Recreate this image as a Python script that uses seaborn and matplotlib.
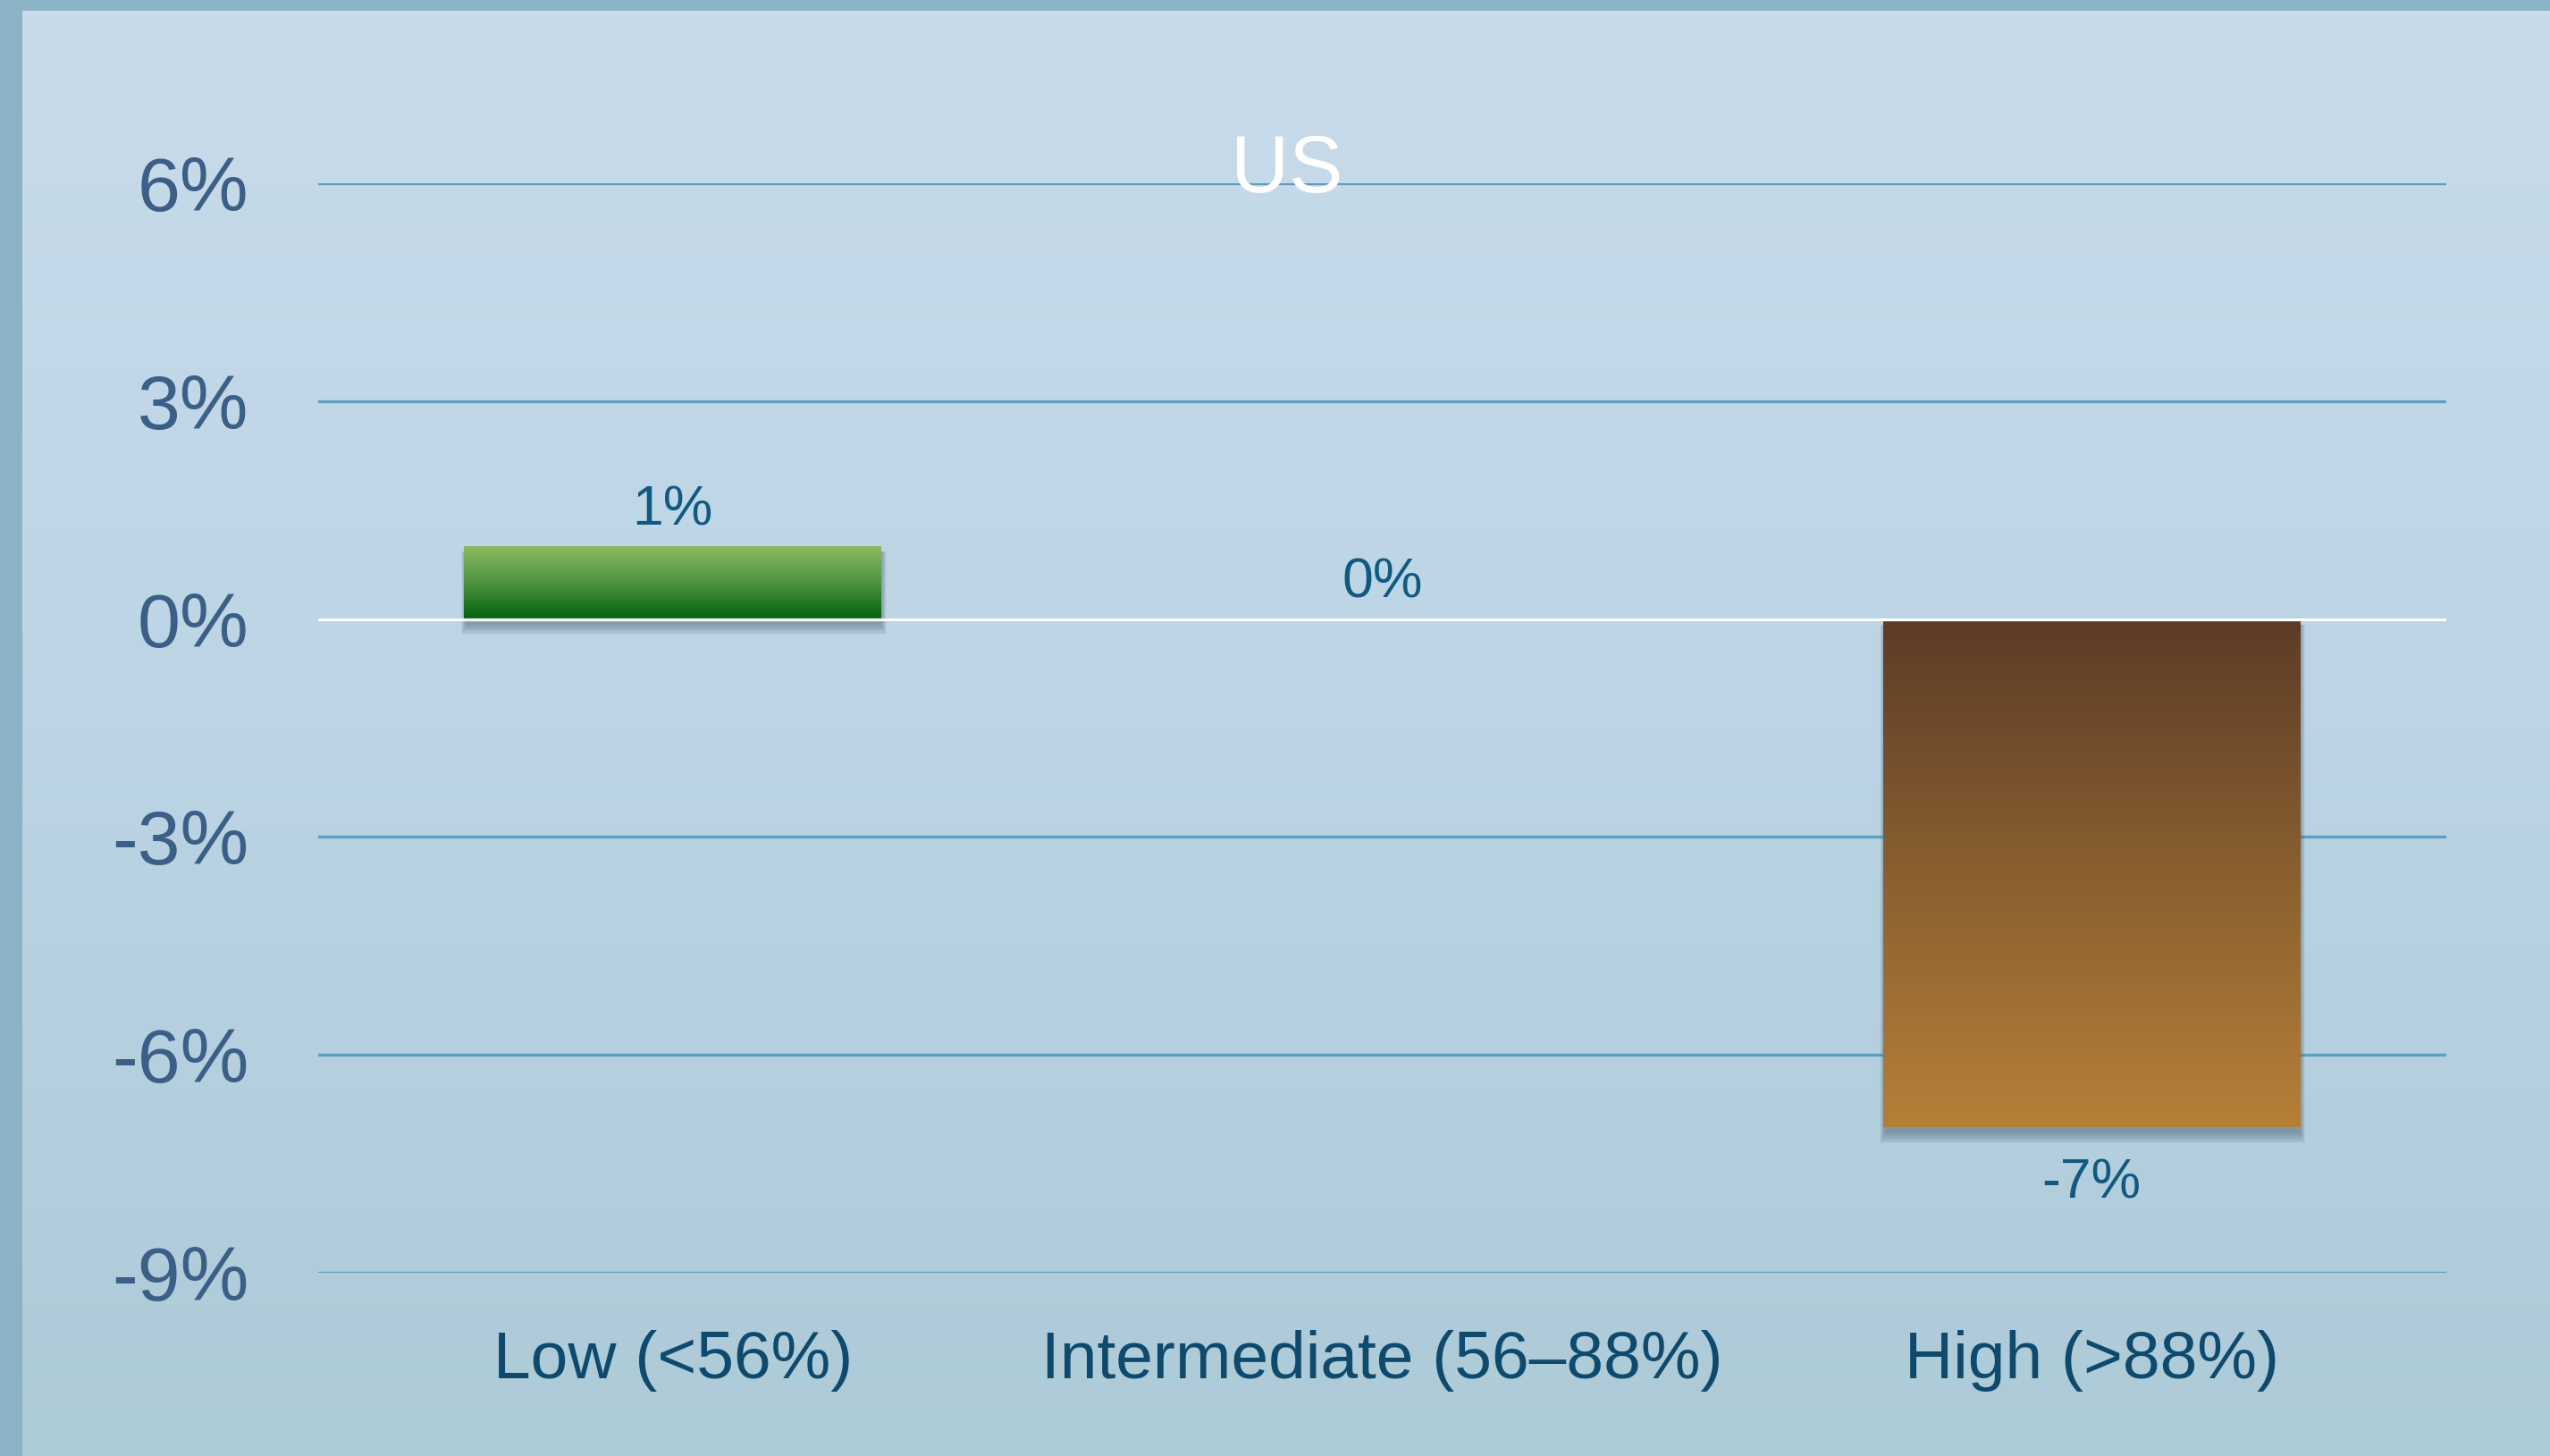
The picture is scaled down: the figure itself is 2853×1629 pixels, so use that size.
import numpy as np
import pandas as pd
import matplotlib
matplotlib.use("Agg")
import matplotlib.pyplot as plt
import seaborn as sns
from matplotlib.colors import LinearSegmentedColormap
from matplotlib.patches import Rectangle

# Data
categories = ["Low (<56%)", "Intermediate (56–88%)", "High (>88%)"]
changes = [1, 0, -7]
value_labels = ["1%", "0%", "-7%"]
y_ticks = [-9, -6, -3, 0, 3, 6]
y_tick_labels = ["-9%", "-6%", "-3%", "0%", "3%", "6%"]
title = "US"

sns.set_theme(style="white")
plt.rcParams["font.family"] = ["Liberation Sans", "DejaVu Sans"]

W, H = 2853, 1629
fig = plt.figure(figsize=(W / 100, H / 100), dpi=100)
fig.patch.set_facecolor("#8ab3c6")

# Slide panel with vertical gradient
bg = fig.add_axes([25 / W, 0, 1 - 25 / W, 1 - 12 / H])
grad = np.linspace(0, 1, 256).reshape(-1, 1)
bg_cmap = LinearSegmentedColormap.from_list("panel", ["#c8dbea", "#bcd4e5", "#adcad7"])
bg.imshow(grad, aspect="auto", cmap=bg_cmap, extent=[0, 1, 0, 1], origin="upper")
bg.set_axis_off()

# Chart axes
ax = fig.add_axes([356 / W, (H - 1424) / H, (2737 - 356) / W, (1424 - 205) / H])
ax.set_facecolor("none")
df = pd.DataFrame({"category": categories, "change": changes})
sns.barplot(data=df, x="category", y="change", ax=ax, width=0.588,
            color="white", saturation=1, zorder=3)

bar_cmaps = [
    LinearSegmentedColormap.from_list("g", ["#8cba60", "#4f9240", "#00620e"]),
    None,
    LinearSegmentedColormap.from_list("b", ["#5c3b27", "#8a6030", "#b57f37"]),
]

ax.set_xlim(-0.5, 2.5)
ax.set_ylim(-9, 6)

# px -> data conversions for the shadow
px_x = 1 / ((2737 - 356) / 3)
px_y = 15 / (1424 - 205)

for patch, cmap in zip(ax.patches, bar_cmaps):
    x, y = patch.get_x(), patch.get_y()
    w, h = patch.get_width(), patch.get_height()
    patch.set_facecolor("none")
    patch.set_edgecolor("none")
    if h == 0 or cmap is None:
        continue
    lo, hi = min(y, y + h), max(y, y + h)
    # soft drop shadow, mostly below the bar
    for k in range(10):
        r = Rectangle((x + 2 * px_x - k * px_x * 0.6, lo - 6 * px_y - k * px_y * 1.3),
                      w - 2 * px_x + 2 * k * px_x * 0.6,
                      (hi - lo) + k * px_y * 1.3,
                      facecolor="#3f5866", edgecolor="none", alpha=0.055, zorder=2)
        ax.add_patch(r)
    im = ax.imshow(grad, aspect="auto", cmap=cmap, extent=[x, x + w, lo, hi],
                   origin="upper", zorder=3)
    im.set_clip_path(patch)

ax.set_xlim(-0.5, 2.5)
ax.set_ylim(-9, 6)

# Grid and zero line
ax.set_yticks(y_ticks)
ax.set_yticklabels(y_tick_labels)
ax.yaxis.grid(True, color="#5ba0c1", linewidth=2.4, zorder=1)
ax.set_axisbelow(True)
ax.axhline(0, color="white", linewidth=2.4, zorder=4)
for s in ax.spines.values():
    s.set_visible(False)
ax.tick_params(axis="y", length=0, pad=56, labelsize=62, labelcolor="#3b5f86")
ax.tick_params(axis="x", length=0, pad=46, labelsize=54, labelcolor="#0d4a6e")
ax.set_xlabel("")
ax.set_ylabel("")

# Value labels
for i, (v, lab) in enumerate(zip(changes, value_labels)):
    if v >= 0:
        ax.annotate(lab, xy=(i, v), xytext=(0, 24), textcoords="offset pixels",
                    ha="center", va="baseline", fontsize=45, color="#0f5a80", zorder=5)
    else:
        ax.annotate(lab, xy=(i, v), xytext=(0, -33), textcoords="offset pixels",
                    ha="center", va="top", fontsize=45, color="#0f5a80", zorder=5)

fig.text(1440 / W, 1 - 215 / H, title, ha="center", va="baseline",
         fontsize=65, color="white", zorder=10)

fig.savefig("out.png", dpi=100, facecolor=fig.get_facecolor())
